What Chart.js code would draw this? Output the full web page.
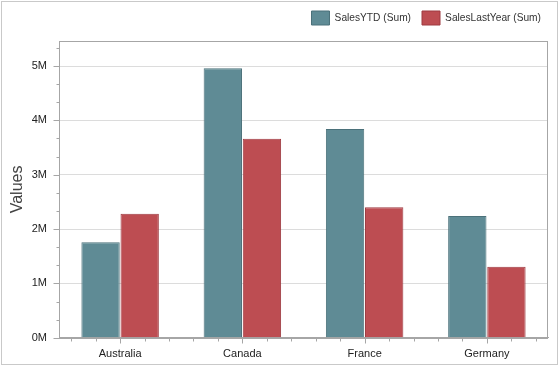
<!DOCTYPE html>
<html>
<head>
<meta charset="utf-8">
<script src="https://cdn.jsdelivr.net/npm/chart.js@4/dist/chart.umd.min.js"></script>
<style>
html,body{margin:0;padding:0;background:#fff;}
#wrap{position:relative;width:559px;height:368px;}
#frame{position:absolute;left:1px;top:1px;width:555px;height:362px;border:1px solid #c9c9c9;pointer-events:none;}
canvas{display:block;}
</style>
</head>
<body>
<div id="wrap">
<canvas id="c" width="559" height="368"></canvas>
<div id="frame"></div>
</div>
<script>
const categories = ["Australia", "Canada", "France", "Germany"];
const salesYTD = [1760000, 4960000, 3840000, 2240000];
const salesLastYear = [2280000, 3660000, 2400000, 1305000];
const seriesNames = ["SalesYTD (Sum)", "SalesLastYear (Sum)"];
const yTickLabels = ["0M", "1M", "2M", "3M", "4M", "5M"];
const yMax = 5460000;
const minorPerMajor = 3;

const FONT = "'Liberation Sans', Arial, sans-serif";

const decor = {
  id: 'decor',
  beforeInit(chart) {
    const orig = chart.legend.fit;
    chart.legend.fit = function () {
      orig.call(this);
      this.height = 41;
    };
  },
  afterLayout(chart) {
    chart.legend.right = 552;
  },
  afterDatasetsDraw(chart) {
    const ctx = chart.ctx;
    const a = chart.chartArea;
    const x = chart.scales.x, y = chart.scales.y;
    ctx.save();
    ctx.strokeStyle = '#a6a6a6';
    ctx.lineWidth = 1;
    ctx.strokeRect(Math.round(a.left) + 0.5, Math.round(a.top) + 0.5,
      Math.round(a.right - a.left) - 1, Math.round(a.bottom - a.top));
    y.ticks.forEach(t => {
      const py = Math.round(y.getPixelForValue(t.value)) + 0.5;
      const len = t.major ? 6 : 3;
      ctx.beginPath();
      ctx.moveTo(Math.round(a.left) + 0.5 - len, py);
      ctx.lineTo(Math.round(a.left) + 0.5, py);
      ctx.stroke();
    });
    const step = (x.getPixelForValue(1) - x.getPixelForValue(0)) / 5;
    const by = Math.round(a.bottom) + 0.5;
    for (let i = 0; i < categories.length; i++) {
      const c = x.getPixelForValue(i);
      for (let k = -2; k <= 2; k++) {
        const px = Math.round(c + k * step) + 0.5;
        const len = k === 0 ? 5 : 3;
        ctx.beginPath();
        ctx.moveTo(px, by);
        ctx.lineTo(px, by + len);
        ctx.stroke();
      }
    }
    ctx.restore();
  }
};

new Chart(document.getElementById('c'), {
  type: 'bar',
  data: {
    labels: categories,
    datasets: [
      { label: seriesNames[0], data: salesYTD, backgroundColor: '#5f8b95', borderColor: '#4b717a', borderWidth: 1 },
      { label: seriesNames[1], data: salesLastYear, backgroundColor: '#bd4d52', borderColor: '#9e3a40', borderWidth: 1 }
    ]
  },
  options: {
    responsive: false,
    animation: false,
    devicePixelRatio: 1,
    layout: { padding: { left: 2, right: 11, top: 0, bottom: -3 } },
    datasets: { bar: { categoryPercentage: 0.64, barPercentage: 0.98 } },
    plugins: {
      legend: {
        position: 'top',
        align: 'end',
        labels: {
          boxWidth: 18, boxHeight: 14, padding: 11,
          color: '#333', font: { family: FONT, size: 10.2 }
        }
      },
      tooltip: { enabled: false }
    },
    scales: {
      x: {
        offset: true,
        grid: { display: false, drawTicks: false },
        border: { display: true, color: '#a6a6a6' },
        ticks: { color: '#222', font: { family: FONT, size: 11 }, padding: 10 }
      },
      y: {
        min: 0, max: yMax,
        afterFit(s) { s.width = 57; },
        afterBuildTicks(s) {
          const ticks = [];
          for (let m = 0; m < yTickLabels.length; m++) {
            for (let k = 0; k < minorPerMajor; k++) {
              const v = (m + k / minorPerMajor) * 1e6;
              if (v <= yMax) ticks.push({ value: v, major: k === 0 });
            }
          }
          s.ticks = ticks;
        },
        grid: {
          drawTicks: false,
          color: ctx => (ctx.tick && ctx.tick.major && ctx.tick.value > 0) ? '#dcdcdc' : 'rgba(0,0,0,0)'
        },
        border: { display: true, color: '#a6a6a6' },
        ticks: {
          autoSkip: false,
          padding: 12,
          color: '#222',
          font: { family: FONT, size: 11 },
          callback: function (v) {
            const m = Math.round(v / 1e6);
            return Math.abs(v - m * 1e6) < 1 ? yTickLabels[m] : '';
          }
        },
        title: {
          display: true, text: 'Values', color: '#444',
          font: { family: FONT, size: 16 }, padding: { top: 6, bottom: 0 }
        }
      }
    }
  },
  plugins: [decor]
});
</script>
</body>
</html>
